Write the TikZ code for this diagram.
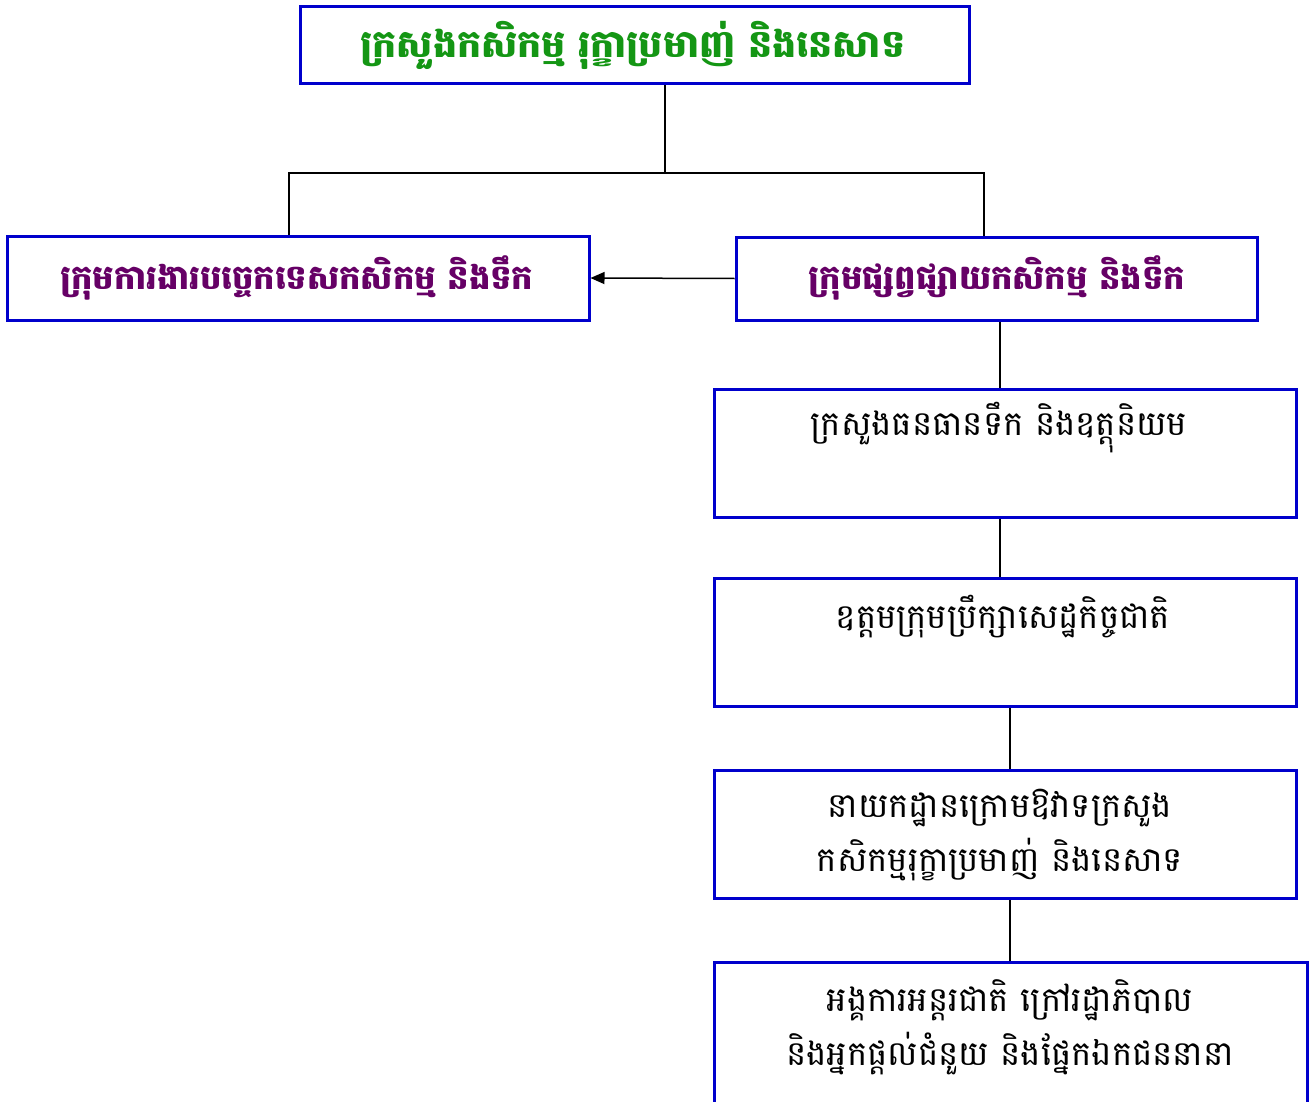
\documentclass[tikz,border=0pt]{standalone}
\usepackage{fontspec}
\newfontfamily\khmer[Script=Khmer]{Battambang}
\usetikzlibrary{arrows.meta}
\definecolor{boxblue}{RGB}{0,0,204}
\definecolor{titlegreen}{RGB}{20,150,20}
\definecolor{grpurple}{RGB}{102,0,102}
\begin{document}
\begin{tikzpicture}[x=1pt,y=-1pt,
  box/.style={draw=boxblue,line width=3pt,fill=white,inner sep=0pt},
  conn/.style={line width=1.5pt,black},
  toptext/.style={font=\khmer\bfseries\fontsize{38}{46}\selectfont,text=titlegreen,inner sep=0pt},
  grptext/.style={font=\khmer\bfseries\fontsize{33.8}{40}\selectfont,text=grpurple,inner sep=0pt},
  bodytext/.style={font=\khmer\fontsize{34}{54}\selectfont,align=center,inner sep=0pt}]
\useasboundingbox (0,0) rectangle (1311,1102);
\clip (0,0) rectangle (1311,1102);
% boxes
\node[box,minimum width=669pt,minimum height=77pt] (top) at (634.5,45.5) {};
\node[box,minimum width=582pt,minimum height=84pt] (left) at (298,278) {};
\node[box,minimum width=521pt,minimum height=83pt] (right) at (996.5,278.5) {};
\node[box,minimum width=582pt,minimum height=128pt] (b4) at (1005,453) {};
\node[box,minimum width=582pt,minimum height=128pt] (b5) at (1005,642) {};
\node[box,minimum width=582pt,minimum height=128pt] (b6) at (1005,834) {};
\node[box,minimum width=593pt,minimum height=148pt] (b7) at (1010.5,1036) {};
% texts
\node[toptext] (ttop) at (633,45) {ក្រសួងកសិកម្ម រុក្ខាប្រមាញ់ និងនេសាទ};
\node[grptext] (tleft) at (297,278) {ក្រុមការងារបច្ចេកទេសកសិកម្ម និងទឹក};
\node[grptext] (tright) at (997,278) {ក្រុមផ្សព្វផ្សាយកសិកម្ម និងទឹក};
\node[bodytext] (t4) at (999,428) {ក្រសួងធនធានទឹក និងឧត្តុនិយម};
\node[bodytext] (t5) at (1003,617) {ឧត្តមក្រុមប្រឹក្សាសេដ្ឋកិច្ចជាតិ};
\node[bodytext] (t6) at (1000,835) {នាយកដ្ឋានក្រោមឱវាទក្រសួង\\កសិកម្មរុក្ខាប្រមាញ់ និងនេសាទ};
\node[bodytext] (t7) at (1010,1027) {អង្គការអន្តរជាតិ ក្រៅរដ្ឋាភិបាល\\និងអ្នកផ្តល់ជំនួយ និងផ្នែកឯកជននានា};
% connectors
\coordinate (tj) at (665,173);
\coordinate (lj) at (289,173);
\coordinate (rj) at (984,173);
\coordinate (c1) at (1000,0);
\coordinate (c2) at (1010,0);
\draw[conn] (tj |- top.south) -- (tj);
\draw[conn] (lj |- left.north) -- (lj) -- (rj) -- (rj |- right.north);
\draw[conn,-{Triangle[length=14pt,width=12pt]}] (right.west) -- (left.east);
\draw[conn] (c1 |- right.south) -- (c1 |- b4.north);
\draw[conn] (c1 |- b4.south) -- (c1 |- b5.north);
\draw[conn] (c2 |- b5.south) -- (c2 |- b6.north);
\draw[conn] (c2 |- b6.south) -- (c2 |- b7.north);
\end{tikzpicture}
\end{document}
